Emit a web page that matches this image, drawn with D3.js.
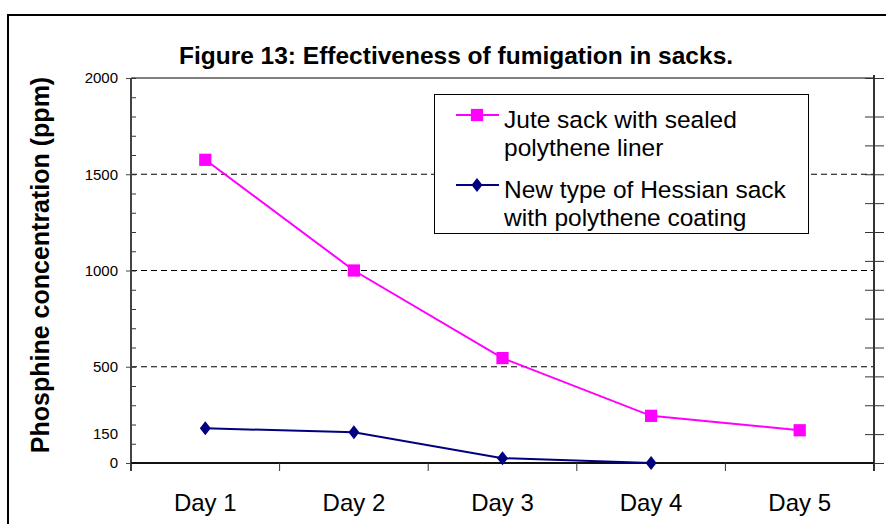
<!DOCTYPE html>
<html>
<head>
<meta charset="utf-8">
<script src="https://cdn.jsdelivr.net/npm/d3@7"></script>
<style>
  body { margin: 0; background: #fff; }
  svg { display: block; font-family: Arial, "Liberation Sans", Helvetica, sans-serif; }
</style>
</head>
<body>
<div id="chart"></div>
<script>
// data
const days = ["Day 1", "Day 2", "Day 3", "Day 4", "Day 5"];
const juteValues = [1575, 1000, 545, 245, 170];
const hessianValues = [180, 160, 25, 0, null];
const leftTickLabels = [0, 150, 500, 1000, 1500, 2000];
const gridValues = [500, 1000, 1500];
const seriesNames = [
  ["Jute sack with sealed", "polythene liner"],
  ["New type of Hessian sack", "with polythene coating"]
];

const width = 886, height = 524;
const plot = { left: 131, right: 874, top: 78, bottom: 463 };

const svg = d3.select("#chart").append("svg")
  .attr("width", width)
  .attr("height", height);

// outer frame (cut off by the window on right and bottom)
svg.append("rect")
  .attr("x", 8).attr("y", 15)
  .attr("width", 900).attr("height", 540)
  .attr("fill", "none")
  .attr("stroke", "#000")
  .attr("stroke-width", 2);

svg.append("text")
  .attr("x", 456).attr("y", 64)
  .attr("text-anchor", "middle")
  .attr("font-size", 24.5)
  .attr("font-weight", "bold")
  .text("Figure 13: Effectiveness of fumigation in sacks.");

const x = d3.scaleBand().domain(days).range([plot.left, plot.right]).padding(0);
const y = d3.scaleLinear().domain([0, 2000]).range([plot.bottom, plot.top]);

// top border of plot area
svg.append("line")
  .attr("x1", plot.left).attr("x2", plot.right)
  .attr("y1", y(2000)).attr("y2", y(2000))
  .attr("stroke", "#808080").attr("stroke-width", 2);

// dashed gridlines
svg.append("g").selectAll("line")
  .data(gridValues)
  .join("line")
  .attr("x1", plot.left).attr("x2", plot.right)
  .attr("y1", d => y(d)).attr("y2", d => y(d))
  .attr("stroke", "#000")
  .attr("stroke-width", 1)
  .attr("stroke-dasharray", "6,4");

// left axis: minor ticks inside, major labels outside
const leftMinor = svg.append("g")
  .attr("transform", `translate(${plot.left},0)`)
  .call(d3.axisLeft(y).tickValues(d3.range(0, 2001, 100)).tickSize(-5).tickFormat(""));
leftMinor.select(".domain").remove();
leftMinor.selectAll("line").attr("stroke", "#333");

const leftAxis = svg.append("g")
  .attr("transform", `translate(${plot.left},0)`)
  .call(d3.axisLeft(y).tickValues(leftTickLabels).tickSize(5).tickPadding(8).tickFormat(d3.format("d")));
leftAxis.select(".domain")
  .attr("d", `M0,${y(2000)}V${plot.bottom + 8}`)
  .attr("stroke", "#444").attr("stroke-width", 2);
leftAxis.selectAll(".tick line").attr("stroke", "#444")
  .filter(d => d === 150).remove();
leftAxis.selectAll("text")
  .attr("font-size", 15)
  .attr("font-family", "Arial, 'Liberation Sans', sans-serif")
  .attr("fill", "#000");

// right axis with crossing ticks
const rightAxis = svg.append("g")
  .attr("transform", `translate(${plot.right},0)`)
  .call(d3.axisRight(y).tickValues(d3.range(0, 1801, 150).concat([2000])).tickSize(10).tickFormat(""));
rightAxis.select(".domain")
  .attr("d", `M0,${y(2000) - 3}V${plot.bottom + 8}`)
  .attr("stroke", "#333").attr("stroke-width", 2);
rightAxis.selectAll(".tick line").attr("x1", -9).attr("stroke", "#333");

// bottom axis with category boundary ticks
const xBounds = days.map(d => x(d)).concat([plot.right]);
const bottomAxis = svg.append("g")
  .attr("transform", `translate(0,${plot.bottom})`);
bottomAxis.append("line")
  .attr("x1", plot.left).attr("x2", plot.right)
  .attr("stroke", "#111").attr("stroke-width", 2);
bottomAxis.selectAll(".bound")
  .data(xBounds)
  .join("line")
  .attr("class", "bound")
  .attr("x1", d => d).attr("x2", d => d)
  .attr("y1", 0).attr("y2", 8)
  .attr("stroke", "#333").attr("stroke-width", 1);
bottomAxis.selectAll(".day")
  .data(days)
  .join("text")
  .attr("class", "day")
  .attr("x", d => x(d) + x.bandwidth() / 2)
  .attr("y", 48)
  .attr("text-anchor", "middle")
  .attr("font-size", 24)
  .text(d => d);

// y axis title
svg.append("text")
  .attr("transform", "translate(49,265) rotate(-90)")
  .attr("text-anchor", "middle")
  .attr("font-size", 25)
  .attr("font-weight", "bold")
  .text("Phosphine concentration (ppm)");

const cx = d => x(d) + x.bandwidth() / 2;
const line = d3.line()
  .defined(d => d[1] != null)
  .x(d => cx(d[0]))
  .y(d => y(d[1]));

const jute = days.map((d, i) => [d, juteValues[i]]);
const hessian = days.map((d, i) => [d, hessianValues[i]]).filter(d => d[1] != null);

svg.append("path")
  .datum(jute)
  .attr("d", line)
  .attr("fill", "none")
  .attr("stroke", "#ff00ff")
  .attr("stroke-width", 2);
svg.append("path")
  .datum(hessian)
  .attr("d", line)
  .attr("fill", "none")
  .attr("stroke", "#000080")
  .attr("stroke-width", 2);

const square = d3.symbol().type(d3.symbolSquare).size(150);
const diamond = "M0,-7L5.5,0L0,7L-5.5,0Z";

svg.append("g").selectAll("path")
  .data(jute)
  .join("path")
  .attr("transform", d => `translate(${cx(d[0])},${y(d[1])})`)
  .attr("d", square)
  .attr("fill", "#ff00ff");
svg.append("g").selectAll("path")
  .data(hessian)
  .join("path")
  .attr("transform", d => `translate(${cx(d[0])},${y(d[1])})`)
  .attr("d", diamond)
  .attr("fill", "#000080");

// legend
const legend = svg.append("g");
legend.append("rect")
  .attr("x", 434.5).attr("y", 94.5)
  .attr("width", 374).attr("height", 139)
  .attr("fill", "#fff")
  .attr("stroke", "#000")
  .attr("stroke-width", 1);

const legendItems = [
  { color: "#ff00ff", marker: square, lineY: 115, lines: seriesNames[0] },
  { color: "#000080", marker: diamond, lineY: 185, lines: seriesNames[1] }
];
legendItems.forEach(item => {
  legend.append("line")
    .attr("x1", 456).attr("x2", 499)
    .attr("y1", item.lineY).attr("y2", item.lineY)
    .attr("stroke", item.color).attr("stroke-width", 2);
  legend.append("path")
    .attr("transform", `translate(477,${item.lineY})`)
    .attr("d", item.marker)
    .attr("fill", item.color);
  item.lines.forEach((t, j) => {
    legend.append("text")
      .attr("x", 504)
      .attr("y", item.lineY + 13 + j * 28)
      .attr("font-size", 24.5)
      .text(t);
  });
});
</script>
</body>
</html>
